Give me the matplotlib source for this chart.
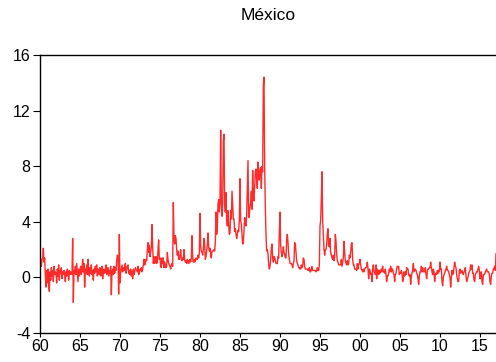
import matplotlib
matplotlib.use("Agg")
import matplotlib.pyplot as plt
import numpy as np

# monthly inflation, Mexico (100 * log change of CPI), Jan 1960 - Jan 2017
infl_60s = [
    1.0, 1.3, 0.8, 1.3, 1.4, 2.1, 1.1, 1.4, 0.2, -0.7, 0.5, -0.4,   # 1960
    0.6, -0.5, -1.0, 0.4, -0.2, 0.7, 0.1, 0.5, -0.3, 0.8, 0.2, 0.4,  # 1961
    0.3, -0.4, 0.6, 0.1, 0.9, -0.2, 0.5, 0.3, 0.7, -0.1, 0.4, 0.2,   # 1962
    0.5, 0.2, -0.3, 0.4, 0.1, 0.6, 0.3, -0.2, 0.5, 0.2, 0.4, 0.3,    # 1963
    0.2, 2.8, -1.8, 0.5, 0.3, 0.8, 0.2, 1.0, 0.4, -0.3, 0.6, 0.1,    # 1964
    0.5, 0.8, 0.2, 0.6, 1.3, 0.4, 1.0, -0.7, 0.6, 0.3, 0.9, 0.2,     # 1965
    1.3, 0.4, 0.1, 0.7, 0.3, 0.9, 0.2, 0.5, -0.2, 0.6, 0.3, 0.8,     # 1966
    0.4, 0.9, 0.1, 0.6, 0.3, 0.2, 0.7, 0.1, 0.5, 0.8, -0.1, 0.4,     # 1967
    0.6, 0.3, 0.5, 0.9, 0.2, 0.4, 0.7, 0.1, 0.5, 0.3, 0.8, -1.25,    # 1968
    0.4, 0.6, 0.2, 0.8, 0.3, 0.7, 0.5, 1.2, 1.6, 1.5, -1.2, 3.1,     # 1969
]
infl_70s = [
    -0.4, 0.3, 0.6, 0.9, 0.4, 0.7, 0.5, 0.8, 1.0, 0.3, 0.6, 0.8,    # 1970
    0.9, 0.3, 0.5, 0.2, 0.6, 0.1, 0.4, -0.1, 0.6, 0.2, 0.4, 0.7,     # 1971
    0.6, 0.5, 0.4, 0.8, 0.2, 0.3, 0.6, 0.5, 0.7, 0.4, 0.6, 0.9,      # 1972
    1.3, 0.9, 1.0, 1.3, 1.2, 2.0, 2.5, 1.8, 2.3, 1.5, 1.8, 2.2,      # 1973
    3.8, 2.2, 1.0, 1.5, 1.0, 1.3, 1.5, 1.0, 1.1, 2.0, 2.7, 1.3,      # 1974
    1.4, 0.8, 0.7, 1.4, 1.0, 1.4, 0.7, 1.1, 0.9, 0.7, 0.8, 1.8,      # 1975
    1.3, 1.0, 0.9, 0.8, 0.6, 0.9, 1.0, 0.8, 5.4, 2.8, 2.4, 3.0,      # 1976
    2.8, 2.0, 1.6, 1.9, 1.3, 1.3, 1.6, 2.0, 1.3, 1.2, 1.4, 1.3,      # 1977
    2.0, 1.3, 1.1, 1.2, 1.0, 1.3, 1.2, 1.0, 1.2, 1.3, 1.1, 1.4,      # 1978
    3.0, 1.4, 1.1, 1.3, 1.1, 1.2, 1.4, 1.3, 1.3, 1.6, 1.4, 1.7,      # 1979
]
infl_80s = [
    4.6, 2.3, 1.9, 1.8, 1.6, 2.0, 2.8, 2.4, 1.3, 1.5, 1.9, 2.3,      # 1980
    3.2, 2.2, 1.9, 2.1, 1.6, 1.4, 1.9, 1.9, 1.9, 2.0, 1.9, 2.5,      # 1981
    4.7, 3.1, 3.6, 5.3, 5.6, 4.7, 5.3, 10.6, 5.4, 4.4, 5.2, 9.8,     # 1982
    10.3, 5.3, 4.7, 6.1, 4.2, 3.7, 4.8, 3.8, 3.1, 3.2, 4.8, 4.2,     # 1983
    6.2, 5.2, 4.2, 4.2, 3.3, 3.5, 3.1, 2.8, 3.1, 3.4, 3.3, 4.1,      # 1984
    7.1, 4.1, 3.8, 3.1, 2.4, 2.5, 3.4, 4.3, 3.9, 3.7, 4.5, 6.6,      # 1985
    8.4, 4.3, 4.5, 5.1, 5.4, 6.2, 4.9, 7.7, 5.8, 5.5, 6.6, 7.6,      # 1986
    7.8, 7.0, 6.4, 8.3, 7.2, 7.0, 7.8, 7.9, 6.4, 8.0, 7.6, 13.8,     # 1987
    14.4, 8.0, 5.0, 3.1, 1.9, 2.0, 1.7, 0.9, 0.6, 0.8, 1.3, 2.1,     # 1988
    2.4, 1.4, 1.1, 1.5, 1.4, 1.2, 1.0, 1.0, 1.0, 1.5, 1.4, 3.3,      # 1989
]
infl_90s = [
    4.7, 2.3, 1.8, 1.5, 1.7, 2.2, 1.8, 1.7, 1.4, 1.4, 2.7, 3.1,      # 1990
    2.5, 1.7, 1.3, 1.0, 1.0, 1.0, 0.9, 0.7, 1.0, 1.2, 2.5, 2.4,      # 1991
    1.8, 1.2, 1.0, 0.9, 0.7, 0.7, 0.6, 0.6, 0.9, 0.7, 0.8, 1.4,      # 1992
    1.3, 0.8, 0.6, 0.6, 0.6, 0.6, 0.5, 0.5, 0.7, 0.4, 0.4, 0.6,      # 1993
    0.8, 0.5, 0.5, 0.5, 0.5, 0.5, 0.4, 0.5, 0.7, 0.5, 0.5, 0.9,      # 1994
    3.7, 4.1, 5.7, 7.6, 4.1, 3.1, 2.0, 1.6, 2.0, 2.0, 2.4, 3.2,      # 1995
    3.5, 2.3, 2.2, 2.8, 1.8, 1.6, 1.4, 1.3, 1.6, 1.2, 1.5, 3.1,      # 1996
    2.6, 1.7, 1.2, 1.1, 0.9, 0.9, 0.9, 0.9, 1.3, 0.8, 1.1, 1.4,      # 1997
    2.6, 1.8, 1.2, 1.0, 0.9, 1.2, 0.9, 1.0, 1.6, 1.4, 1.8, 2.4,      # 1998
    2.5, 1.3, 0.9, 0.9, 0.6, 0.6, 0.6, 0.5, 1.0, 0.6, 0.9, 1.0,      # 1999
]
infl_00s = [
    1.3, 0.9, 0.6, 0.5, 0.4, 0.6, 0.4, 0.6, 0.7, 0.7, 0.8, 1.1,      # 2000
    0.6, -0.1, 0.6, 0.5, 0.2, 0.3, -0.3, 0.6, 0.9, 0.4, 0.4, 0.2,    # 2001
    0.9, -0.1, 0.6, 0.5, 0.2, 0.5, 0.3, 0.4, 0.6, 0.4, 0.8, 0.4,     # 2002
    0.4, 0.3, 0.6, 0.2, -0.3, 0.1, 0.1, 0.3, 0.6, 0.4, 0.8, 0.4,     # 2003
    0.6, 0.6, 0.3, 0.2, -0.3, 0.2, 0.3, 0.6, 0.8, 0.7, 0.8, 0.2,     # 2004
    0.3, 0.3, 0.5, 0.3, -0.3, -0.1, 0.4, 0.1, 0.4, 0.2, 0.7, 0.6,    # 2005
    0.6, 0.2, 0.1, 0.2, -0.5, 0.1, 0.3, 0.5, 1.0, 0.4, 0.5, 0.6,     # 2006
    0.5, 0.3, 0.2, -0.1, -0.5, 0.1, 0.4, 0.4, 0.8, 0.4, 0.7, 0.4,    # 2007
    0.5, 0.4, 0.7, 0.2, -0.1, 0.4, 0.6, 0.6, 0.7, 0.7, 1.1, 0.7,     # 2008
    0.4, 0.2, 0.6, 0.4, -0.3, 0.2, 0.3, 0.2, 0.5, 0.3, 0.5, 0.4,     # 2009
]
infl_10s = [
    1.1, 0.6, 0.6, -0.3, -0.6, 0.0, 0.2, 0.3, 0.5, 0.6, 0.8, 0.5,    # 2010
    0.5, 0.4, 0.2, 0.0, -0.7, 0.0, 0.5, 0.2, 0.3, 0.7, 1.1, 0.8,     # 2011
    0.7, 0.2, -0.1, -0.3, -0.3, 0.5, 0.6, 0.3, 0.4, 0.5, 0.3, 0.2,   # 2012
    0.4, 0.5, 0.7, 0.1, -0.3, -0.1, 0.0, 0.3, 0.4, 0.5, 0.9, 0.6,    # 2013
    0.9, 0.3, 0.3, -0.2, -0.3, 0.2, 0.3, 0.4, 0.4, 0.6, 0.8, 0.5,    # 2014
    -0.1, 0.2, 0.4, -0.3, -0.5, 0.2, 0.2, 0.2, 0.4, 0.5, 0.6, 0.4,   # 2015
    0.4, 0.4, 0.2, -0.3, -0.5, 0.1, 0.3, 0.3, 0.6, 0.6, 0.8, 0.5,    # 2016
    1.7,                                                             # 2017
]

infl = np.array(infl_60s + infl_70s + infl_80s + infl_90s + infl_00s + infl_10s)
t = 1960 + np.arange(len(infl)) / 12.0

xtick_pos = np.arange(1960, 2016, 5)
xtick_lab = ["%02d" % (y % 100) for y in xtick_pos]
ytick_pos = [-4, 0, 4, 8, 12, 16]

plt.rcParams['font.family'] = ['Liberation Sans', 'DejaVu Sans']
plt.rcParams['axes.unicode_minus'] = False

fig = plt.figure(figsize=(4.96, 3.62), dpi=100)
ax = fig.add_axes([40 / 496, 1 - 333 / 362, 456 / 496, 278 / 362])

ax.plot(t, infl, color='#ff2a2a', lw=1.0)

ax.set_xlim(1960, 2017)
ax.set_ylim(-4, 16)
ax.set_xticks(xtick_pos)
ax.set_xticklabels(xtick_lab)
ax.set_yticks(ytick_pos)
ax.tick_params(axis='both', labelsize=11.5, length=5, width=0.8, pad=2, colors='black')
ax.tick_params(axis='x', length=3, pad=1)
for s in ['left', 'bottom', 'top']:
    ax.spines[s].set_linewidth(1.0)
ax.spines['right'].set_visible(False)

ax.set_title("México", fontsize=12.5, pad=25)

fig.savefig("out.png", dpi=100)
